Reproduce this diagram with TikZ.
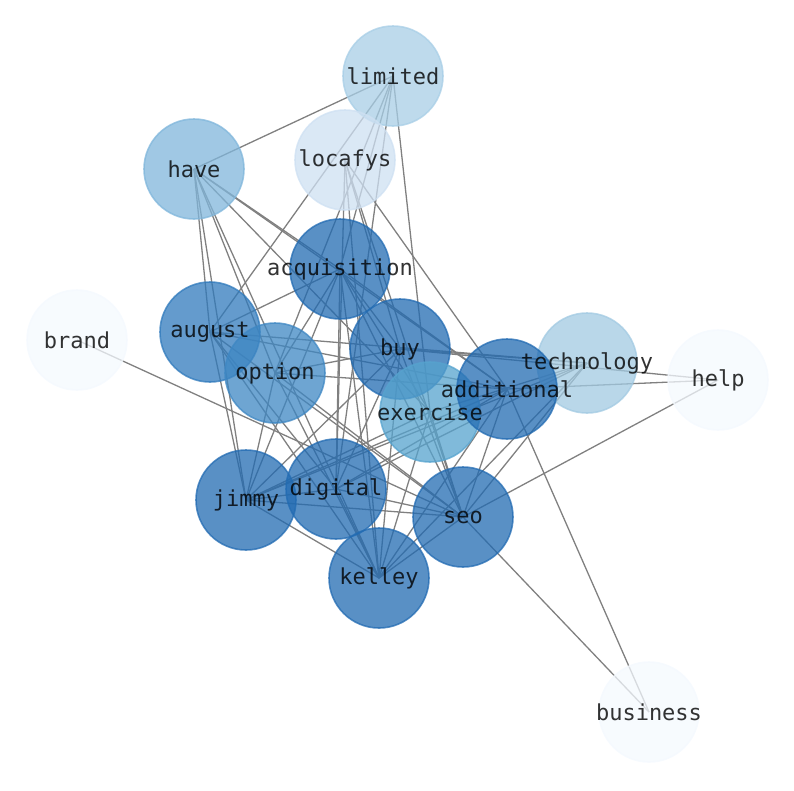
\documentclass[tikz,border=0pt]{standalone}
\usepackage{fontspec}
\newfontfamily\wordfont{DejaVu Sans Mono}
\pgfdeclarelayer{edges}
\pgfsetlayers{edges,main}
\tikzset{
  word/.style={circle, minimum size=100pt, inner sep=0pt, line width=1.6pt, fill opacity=0.75, draw opacity=0.75},
  wordtext/.style={text opacity=0.8, text={rgb,255:red,0; green,0; blue,0}, inner sep=0pt, font=\wordfont\fontsize{22}{24}\selectfont},
  edge/.style={draw={rgb,255:red,128; green,128; blue,128}, line width=1.3pt}
}
\begin{document}
\begin{tikzpicture}[x=1pt,y=1pt,yscale=-1,xscale=1]
\useasboundingbox (0,0) rectangle (794,790);

% nodes
\node [word, fill={rgb,255:red,168; green,206; blue,230}, draw={rgb,255:red,168; green,206; blue,230}] (limited) at (393,76) {};
\node [word, fill={rgb,255:red,128; green,182; blue,219}, draw={rgb,255:red,128; green,182; blue,219}] (have) at (194,169) {};
\node [word, fill={rgb,255:red,206; green,224; blue,242}, draw={rgb,255:red,206; green,224; blue,242}] (locafys) at (345,160) {};
\node [word, fill={rgb,255:red,34; green,107; blue,178}, draw={rgb,255:red,34; green,107; blue,178}] (acquisition) at (340,269) {};
\node [word, fill={rgb,255:red,244; green,249; blue,254}, draw={rgb,255:red,244; green,249; blue,254}] (brand) at (77,340) {};
\node [word, fill={rgb,255:red,48; green,122; blue,188}, draw={rgb,255:red,48; green,122; blue,188}] (august) at (210,332) {};
\node [word, fill={rgb,255:red,62; green,135; blue,195}, draw={rgb,255:red,62; green,135; blue,195}] (option) at (275,373) {};
\node [word, fill={rgb,255:red,34; green,107; blue,178}, draw={rgb,255:red,34; green,107; blue,178}] (buy) at (400,349) {};
\node [word, fill={rgb,255:red,162; green,202; blue,226}, draw={rgb,255:red,162; green,202; blue,226}] (technology) at (587,363) {};
\node [word, fill={rgb,255:red,86; green,163; blue,206}, draw={rgb,255:red,86; green,163; blue,206}] (exercise) at (430,412) {};
\node [word, fill={rgb,255:red,34; green,107; blue,178}, draw={rgb,255:red,34; green,107; blue,178}] (additional) at (507,389) {};
\node [word, fill={rgb,255:red,244; green,249; blue,254}, draw={rgb,255:red,244; green,249; blue,254}] (help) at (718,380) {};
\node [word, fill={rgb,255:red,34; green,107; blue,178}, draw={rgb,255:red,34; green,107; blue,178}] (jimmy) at (246,500) {};
\node [word, fill={rgb,255:red,34; green,107; blue,178}, draw={rgb,255:red,34; green,107; blue,178}] (digital) at (336,489) {};
\node [word, fill={rgb,255:red,34; green,107; blue,178}, draw={rgb,255:red,34; green,107; blue,178}] (seo) at (463,517) {};
\node [word, fill={rgb,255:red,34; green,107; blue,178}, draw={rgb,255:red,34; green,107; blue,178}] (kelley) at (379,578) {};
\node [word, fill={rgb,255:red,244; green,249; blue,254}, draw={rgb,255:red,244; green,249; blue,254}] (business) at (649,712) {};

% labels on top of every circle
\node [wordtext] (limited-text) at (limited) {limited};
\node [wordtext] (have-text) at (have) {have};
\node [wordtext] (locafys-text) at (locafys) {locafys};
\node [wordtext] (acquisition-text) at (acquisition) {acquisition};
\node [wordtext] (brand-text) at (brand) {brand};
\node [wordtext] (august-text) at (august) {august};
\node [wordtext] (option-text) at (option) {option};
\node [wordtext] (buy-text) at (buy) {buy};
\node [wordtext] (technology-text) at (technology) {technology};
\node [wordtext] (exercise-text) at (exercise) {exercise};
\node [wordtext] (additional-text) at (additional) {additional};
\node [wordtext] (help-text) at (help) {help};
\node [wordtext] (jimmy-text) at (jimmy) {jimmy};
\node [wordtext] (digital-text) at (digital) {digital};
\node [wordtext] (seo-text) at (seo) {seo};
\node [wordtext] (kelley-text) at (kelley) {kelley};
\node [wordtext] (business-text) at (business) {business};

% edges, under the nodes
\begin{pgfonlayer}{edges}
\draw [edge] (limited.center) -- (have.center);
\draw [edge] (limited.center) -- (august.center);
\draw [edge] (limited.center) -- (option.center);
\draw [edge] (limited.center) -- (acquisition.center);
\draw [edge] (limited.center) -- (digital.center);
\draw [edge] (limited.center) -- (exercise.center);

\draw [edge] (locafys.center) -- (digital.center);
\draw [edge] (locafys.center) -- (kelley.center);
\draw [edge] (locafys.center) -- (buy.center);
\draw [edge] (locafys.center) -- (seo.center);
\draw [edge] (locafys.center) -- (additional.center);

\draw [edge] (have.center) -- (august.center);
\draw [edge] (have.center) -- (jimmy.center);
\draw [edge] (have.center) -- (option.center);
\draw [edge] (have.center) -- (kelley.center);
\draw [edge] (have.center) -- (acquisition.center);
\draw [edge] (have.center) -- (additional.center);
\draw [edge] (have.center) -- (exercise.center);

\draw [edge] (brand.center) -- (seo.center);
\draw [edge] (business.center) -- (seo.center);
\draw [edge] (business.center) -- (additional.center);
\draw [edge] (help.center) -- (buy.center);
\draw [edge] (help.center) -- (additional.center);
\draw [edge] (help.center) -- (seo.center);

\draw [edge] (acquisition.center) -- (august.center);
\draw [edge] (acquisition.center) -- (option.center);
\draw [edge] (acquisition.center) -- (buy.center);
\draw [edge] (acquisition.center) -- (jimmy.center);
\draw [edge] (acquisition.center) -- (digital.center);
\draw [edge] (acquisition.center) -- (kelley.center);
\draw [edge] (acquisition.center) -- (seo.center);
\draw [edge] (acquisition.center) -- (exercise.center);
\draw [edge] (acquisition.center) -- (additional.center);

\draw [edge] (august.center) -- (technology.center);
\draw [edge] (august.center) -- (additional.center);
\draw [edge] (august.center) -- (jimmy.center);
\draw [edge] (august.center) -- (kelley.center);
\draw [edge] (august.center) -- (seo.center);
\draw [edge] (august.center) -- (digital.center);

\draw [edge] (option.center) -- (buy.center);
\draw [edge] (option.center) -- (jimmy.center);
\draw [edge] (option.center) -- (kelley.center);
\draw [edge] (option.center) -- (seo.center);
\draw [edge] (option.center) -- (additional.center);

\draw [edge] (buy.center) -- (technology.center);
\draw [edge] (buy.center) -- (jimmy.center);
\draw [edge] (buy.center) -- (digital.center);
\draw [edge] (buy.center) -- (kelley.center);
\draw [edge] (buy.center) -- (seo.center);

\draw [edge] (technology.center) -- (exercise.center);
\draw [edge] (technology.center) -- (jimmy.center);
\draw [edge] (technology.center) -- (digital.center);
\draw [edge] (technology.center) -- (kelley.center);
\draw [edge] (technology.center) -- (seo.center);

\draw [edge] (additional.center) -- (jimmy.center);
\draw [edge] (additional.center) -- (digital.center);
\draw [edge] (additional.center) -- (kelley.center);
\draw [edge] (additional.center) -- (seo.center);

\draw [edge] (exercise.center) -- (jimmy.center);
\draw [edge] (exercise.center) -- (kelley.center);
\draw [edge] (exercise.center) -- (seo.center);

\draw [edge] (jimmy.center) -- (digital.center);
\draw [edge] (jimmy.center) -- (kelley.center);
\draw [edge] (jimmy.center) -- (seo.center);
\draw [edge] (digital.center) -- (kelley.center);
\draw [edge] (digital.center) -- (seo.center);
\draw [edge] (kelley.center) -- (seo.center);
\end{pgfonlayer}

\end{tikzpicture}
\end{document}
